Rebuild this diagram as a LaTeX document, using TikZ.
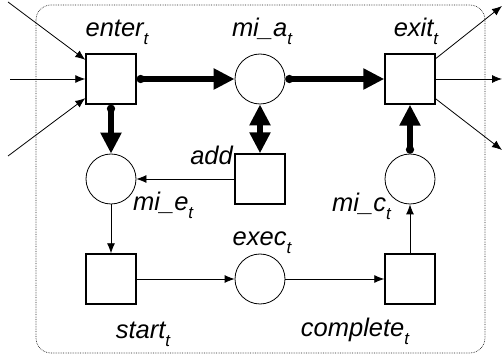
\documentclass[tikz,border=0pt]{standalone}
\usepackage{fontspec}
\setmainfont{Liberation Sans}
\usetikzlibrary{arrows.meta}

\newcommand{\lowsub}[1]{\raisebox{-7.5pt}{\fontsize{17}{20}\selectfont #1}}

\tikzset{
	trans/.style={draw,line width=1.4pt,minimum size=50pt,inner sep=0pt},
	place/.style={draw,circle,line width=0.8pt,minimum size=50pt,inner sep=0pt},
	lbl/.style={font=\fontsize{25.5}{30}\selectfont\itshape,inner sep=0pt},
	arc/.style={-{Latex[length=10pt,width=8pt]},line width=0.8pt},
	bighead/.tip={Triangle[length=21pt,width=20pt]},
	bigarc/.style={{Circle[length=8pt]}-bighead,line width=5.5pt},
}

\begin{document}
\begin{tikzpicture}[x=1pt,y=-1pt]
		\useasboundingbox (0,0) rectangle (504,358);
		\draw[black!85,line width=0.7pt,densely dotted,rounded corners=15pt] (36,5) rectangle (485,353);

		% transitions and places
		\node[trans] (enter) at (111,79) {};
		\node[place] (mia) at (260,79) {};
		\node[trans] (exit) at (410,79) {};
		\node[place] (mie) at (111,179) {};
		\node[trans] (add) at (260,179) {};
		\node[place] (mic) at (410,179) {};
		\node[trans] (start) at (111,279) {};
		\node[place] (exec) at (260,279) {};
		\node[trans] (complete) at (410,279) {};

		% labels
		\node[lbl,anchor=base] (enterlbl) at (117,37) {enter\lowsub{t}};
		\node[lbl,anchor=base] (mialbl) at (262,37) {mi\_a\lowsub{t}};
		\node[lbl,anchor=base] (exitlbl) at (416,37) {exit\lowsub{t}};
		\node[lbl,anchor=base east] (addlbl) at (233,165) {add};
		\node[lbl,anchor=base west] (mielbl) at (133,211) {mi\_e\lowsub{t}};
		\node[lbl,anchor=base east] (miclbl) at (391,212) {mi\_c\lowsub{t}};
		\node[lbl,anchor=base] (execlbl) at (262,246) {exec\lowsub{t}};
		\node[lbl,anchor=base] (startlbl) at (143,339) {start\lowsub{t}};
		\node[lbl,anchor=base] (completelbl) at (355,337) {complete\lowsub{t}};

		% free ends outside
		\coordinate (in1) at (8,2);
		\coordinate (in2) at (10,79);
		\coordinate (in3) at (8,156);
		\coordinate (out1) at (502,6);
		\coordinate (out2) at (502,79);
		\coordinate (out3) at (502,150);

		\draw[arc] (in1) -- (enter);
		\draw[arc] (in2) -- (enter);
		\draw[arc] (in3) -- (enter);
		\draw[arc] (exit) -- (out1);
		\draw[arc] (exit) -- (out2);
		\draw[arc] (exit) -- (out3);

		% thick arcs
		\draw[bigarc] (enter) -- (mia);
		\draw[bigarc] (enter) -- (mie);
		\draw[bigarc] (mia) -- (exit);
		\draw[bigarc] (mic) -- (exit);
		\draw[bighead-bighead,line width=5.5pt] (mia) -- (add);

		% thin arcs
		\draw[arc] (add) -- (mie);
		\draw[arc] (mie) -- (start);
		\draw[arc] (start) -- (exec);
		\draw[arc] (exec) -- (complete);
		\draw[arc] (complete) -- (mic);
	\end{tikzpicture}
\end{document}
